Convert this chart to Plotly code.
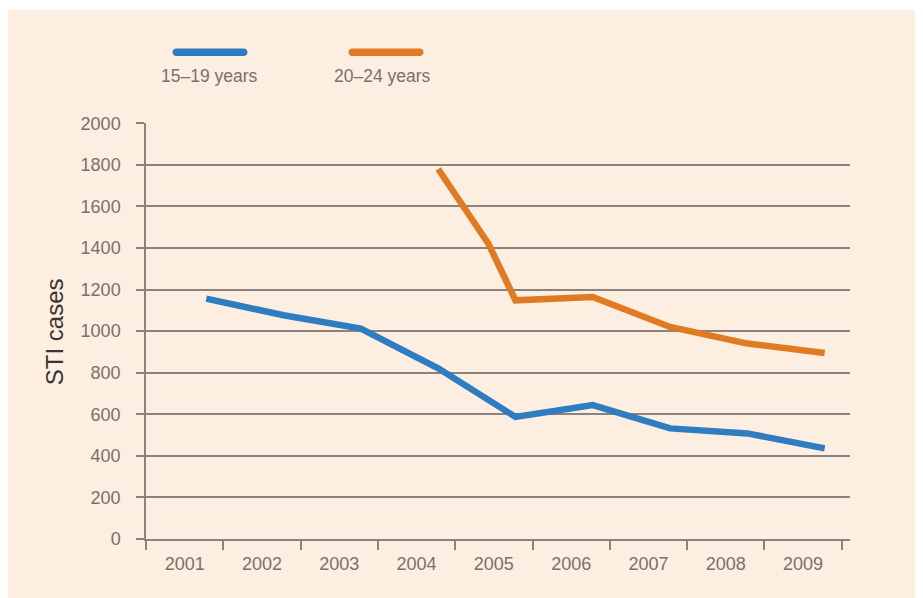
import plotly.graph_objects as go

# ---- data ----
years = [2001, 2002, 2003, 2004, 2005, 2006, 2007, 2008, 2009]
teen_cases = [1156, 1076, 1012, 821, 587, 644, 532, 508, 436]          # 15-19 years
young_x = [2004, 2004.65, 2005, 2006, 2007, 2008, 2009]
young_cases = [1780, 1420, 1148, 1164, 1020, 940, 895]                # 20-24 years
y_ticks = [0, 200, 400, 600, 800, 1000, 1200, 1400, 1600, 1800, 2000]
series_names = ["15\u201319 years", "20\u201324 years"]

# ---- style ----
W, H = 923, 598
BODY = 8  # browser default body margin shifts the figure
# target plot box in screen pixels
SL, SR, ST, SB = 146, 850, 122.7, 539
L, T = SL - BODY, ST - BODY
R, B = W - (SR - BODY), H - (SB - BODY)
BLUE = "#2F7DC1"
ORANGE = "#E07A23"
GRID = "#8C827B"
TXT = "#78716D"
CREAM = "#FCEEE0"
FONT = "Liberation Sans, Arial, sans-serif"

pw, ph = SR - SL, SB - ST
def px(xs):   # screen x -> paper
    return (xs - SL) / pw
def py(ys):   # screen y -> paper
    return (SB - ys) / ph

# points sit at ~0.78 of each category band
OFF = 0.28
x_lo = years[0] - 0.5 - OFF
x_hi = x_lo + pw / 77.3

fig = go.Figure()
fig.add_trace(go.Scatter(x=years, y=teen_cases, mode="lines",
                         line=dict(color=BLUE, width=6.5), name=series_names[0],
                         showlegend=False))
fig.add_trace(go.Scatter(x=young_x, y=young_cases, mode="lines",
                         line=dict(color=ORANGE, width=6.5), name=series_names[1],
                         showlegend=False))

fig.update_layout(
    width=W, height=H,
    margin=dict(l=L, r=R, t=T, b=B),
    paper_bgcolor="white",
    plot_bgcolor="rgba(0,0,0,0)",
    font=dict(family=FONT, color=TXT, size=18),
    xaxis=dict(
        range=[x_lo, x_hi],
        tickmode="array",
        tickvals=[y - OFF for y in years],
        ticktext=[str(y) for y in years],
        ticks="",
        showgrid=False,
        zeroline=False,
        showline=True, linecolor=GRID, linewidth=1.5,
        minor=dict(tick0=x_lo, dtick=1, ticks="outside", ticklen=9,
                   tickcolor=GRID, tickwidth=1.5, showgrid=False),
        tickfont=dict(size=18, color=TXT),
        ticklabelstandoff=8,
        fixedrange=True,
    ),
    yaxis=dict(
        range=[0, 2001],
        tickmode="array",
        tickvals=y_ticks,
        ticks="outside", ticklen=8, tickcolor=GRID, tickwidth=1.5,
        showgrid=True, gridcolor=GRID, gridwidth=1.5,
        zeroline=False,
        showline=True, linecolor=GRID, linewidth=1.5,
        tickfont=dict(size=18, color=TXT),
        ticklabelstandoff=12,
        fixedrange=True,
    ),
    showlegend=False,
)

# cream panel background
fig.add_shape(type="rect", xref="paper", yref="paper",
              x0=px(7), x1=px(W + 20), y0=py(H + 20), y1=py(9),
              fillcolor=CREAM, line=dict(width=0), layer="below")

# y-axis title
fig.add_annotation(text="STI cases", xref="paper", yref="paper",
                   x=px(54), y=py(332), textangle=-90, showarrow=False,
                   xanchor="center", yanchor="middle",
                   font=dict(family=FONT, size=24, color="#3a3533"))

# custom legend: rounded swatches above labels
def pill(cx, cy, length, thick, color):
    r = thick / 2
    hl = length / 2 - r
    path = (f"M {-hl},{-r} L {hl},{-r} C {hl + r * 1.33},{-r} {hl + r * 1.33},{r} {hl},{r} "
            f"L {-hl},{r} C {-hl - r * 1.33},{r} {-hl - r * 1.33},{-r} {-hl},{-r} Z")
    fig.add_shape(type="path", xref="paper", yref="paper",
                  xsizemode="pixel", ysizemode="pixel",
                  xanchor=px(cx), yanchor=py(cy), path=path,
                  fillcolor=color, line=dict(width=0))

pill(210, 52, 75, 7.5, BLUE)
pill(386, 52, 75, 7.5, ORANGE)
fig.add_annotation(text=series_names[0], xref="paper", yref="paper",
                   x=px(209), y=py(76), showarrow=False,
                   xanchor="center", yanchor="middle",
                   font=dict(family=FONT, size=17.5, color=TXT))
fig.add_annotation(text=series_names[1], xref="paper", yref="paper",
                   x=px(382), y=py(76), showarrow=False,
                   xanchor="center", yanchor="middle",
                   font=dict(family=FONT, size=17.5, color=TXT))

fig.write_html("out.html")
